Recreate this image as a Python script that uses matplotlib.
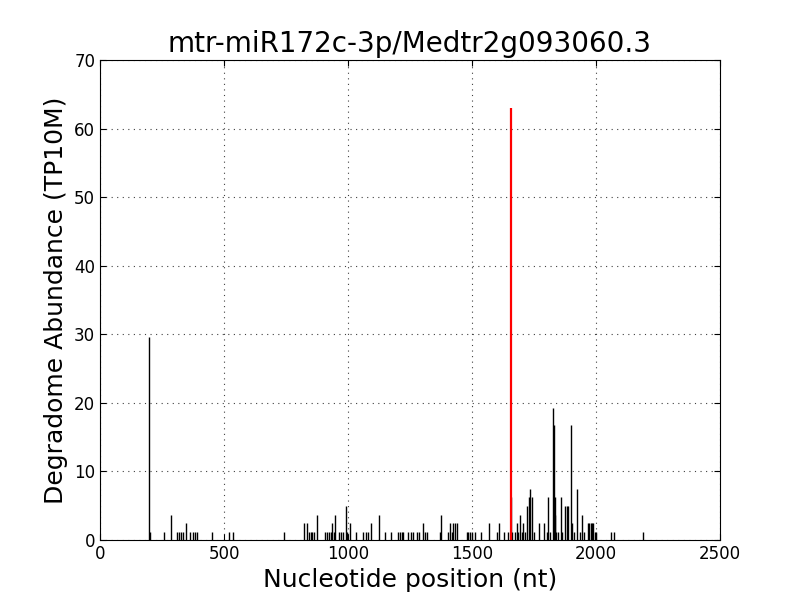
import matplotlib
matplotlib.use('Agg')
import matplotlib.pyplot as plt

# cleavage site (red) for the miRNA
site_pos = [1657]
site_val = [63.0]

# all other degradome tags
pos = [199, 203, 259, 286, 310, 319, 328, 333, 345, 364, 375, 383, 392, 453, 520, 535,
       743, 824, 833, 843, 849, 856, 864, 876, 907, 914, 923, 930, 937, 942, 949, 962,
       972, 981, 992, 997, 1009, 1033, 1062, 1071, 1080, 1093, 1126, 1150, 1175, 1203,
       1210, 1216, 1223, 1243, 1253, 1263, 1277, 1286,
       1303, 1309, 1320, 1372, 1377, 1404, 1411, 1418, 1424, 1431, 1438, 1478, 1485,
       1492, 1498, 1514, 1536, 1570, 1602, 1609, 1629,
       1647, 1658, 1663, 1673, 1680, 1687, 1694, 1700, 1707, 1715, 1722, 1729, 1734,
       1742, 1750, 1770, 1792, 1801, 1806, 1815, 1828, 1830, 1833, 1836, 1840, 1845,
       1857, 1864, 1876, 1883, 1889, 1900, 1903, 1913, 1924, 1935, 1943, 1951, 1968,
       1973, 1978, 1983, 1988, 1994, 2000, 2061, 2074, 2191]
val = [29.6, 1.2, 1.2, 3.7, 1.2, 1.2, 1.2, 1.2, 2.5, 1.2, 1.2, 1.2, 1.2, 1.2, 1.2, 1.2,
       1.2, 2.5, 2.5, 1.2, 1.2, 1.2, 1.2, 3.7, 1.2, 1.2, 1.2, 1.2, 2.5, 1.2, 3.7, 1.2,
       1.2, 1.2, 4.9, 1.2, 2.5, 1.2, 1.2, 1.2, 1.2, 2.5, 3.7, 1.2, 1.2, 1.2,
       1.2, 1.2, 1.2, 1.2, 1.2, 1.2, 1.2, 1.2,
       2.5, 1.2, 1.2, 1.2, 3.7, 1.2, 2.5, 1.2, 2.5, 2.5, 2.5, 1.2, 1.2,
       1.2, 1.2, 1.2, 1.2, 2.5, 1.2, 2.5, 1.2,
       1.2, 6.2, 1.2, 1.2, 2.5, 1.2, 3.7, 1.2, 2.5, 1.2, 4.9, 6.2, 7.4,
       6.2, 1.2, 2.5, 2.5, 1.2, 6.2, 1.2, 19.2, 16.8, 3.7, 6.2, 1.2, 1.2,
       6.2, 1.2, 4.9, 4.9, 4.9, 16.8, 2.5, 1.2, 7.4, 1.2, 3.7, 1.2, 2.5,
       2.5, 2.5, 2.5, 2.5, 1.2, 1.2, 1.2, 1.2, 1.2]

fig = plt.figure(figsize=(8, 6), dpi=100)
ax = fig.add_axes([0.125, 0.1, 0.775, 0.8])

ax.vlines(pos, 0, val, colors='black', linewidth=1.0)
ax.vlines(site_pos, 0, site_val, colors='red', linewidth=1.6)

ax.set_xlim(0, 2500)
ax.set_ylim(0, 70)
ax.set_xticks([0, 500, 1000, 1500, 2000, 2500])
ax.set_yticks(range(0, 71, 10))
ax.tick_params(direction='in', top=True, right=True, labelsize=12, length=4)
ax.grid(True, linestyle=(0, (1, 4)), color='0.25', linewidth=0.8)

ax.set_title('mtr-miR172c-3p/Medtr2g093060.3', fontsize=20)
ax.set_xlabel('Nucleotide position (nt)', fontsize=18)
ax.set_ylabel('Degradome Abundance (TP10M)', fontsize=18)

fig.savefig('out.png', dpi=100)
